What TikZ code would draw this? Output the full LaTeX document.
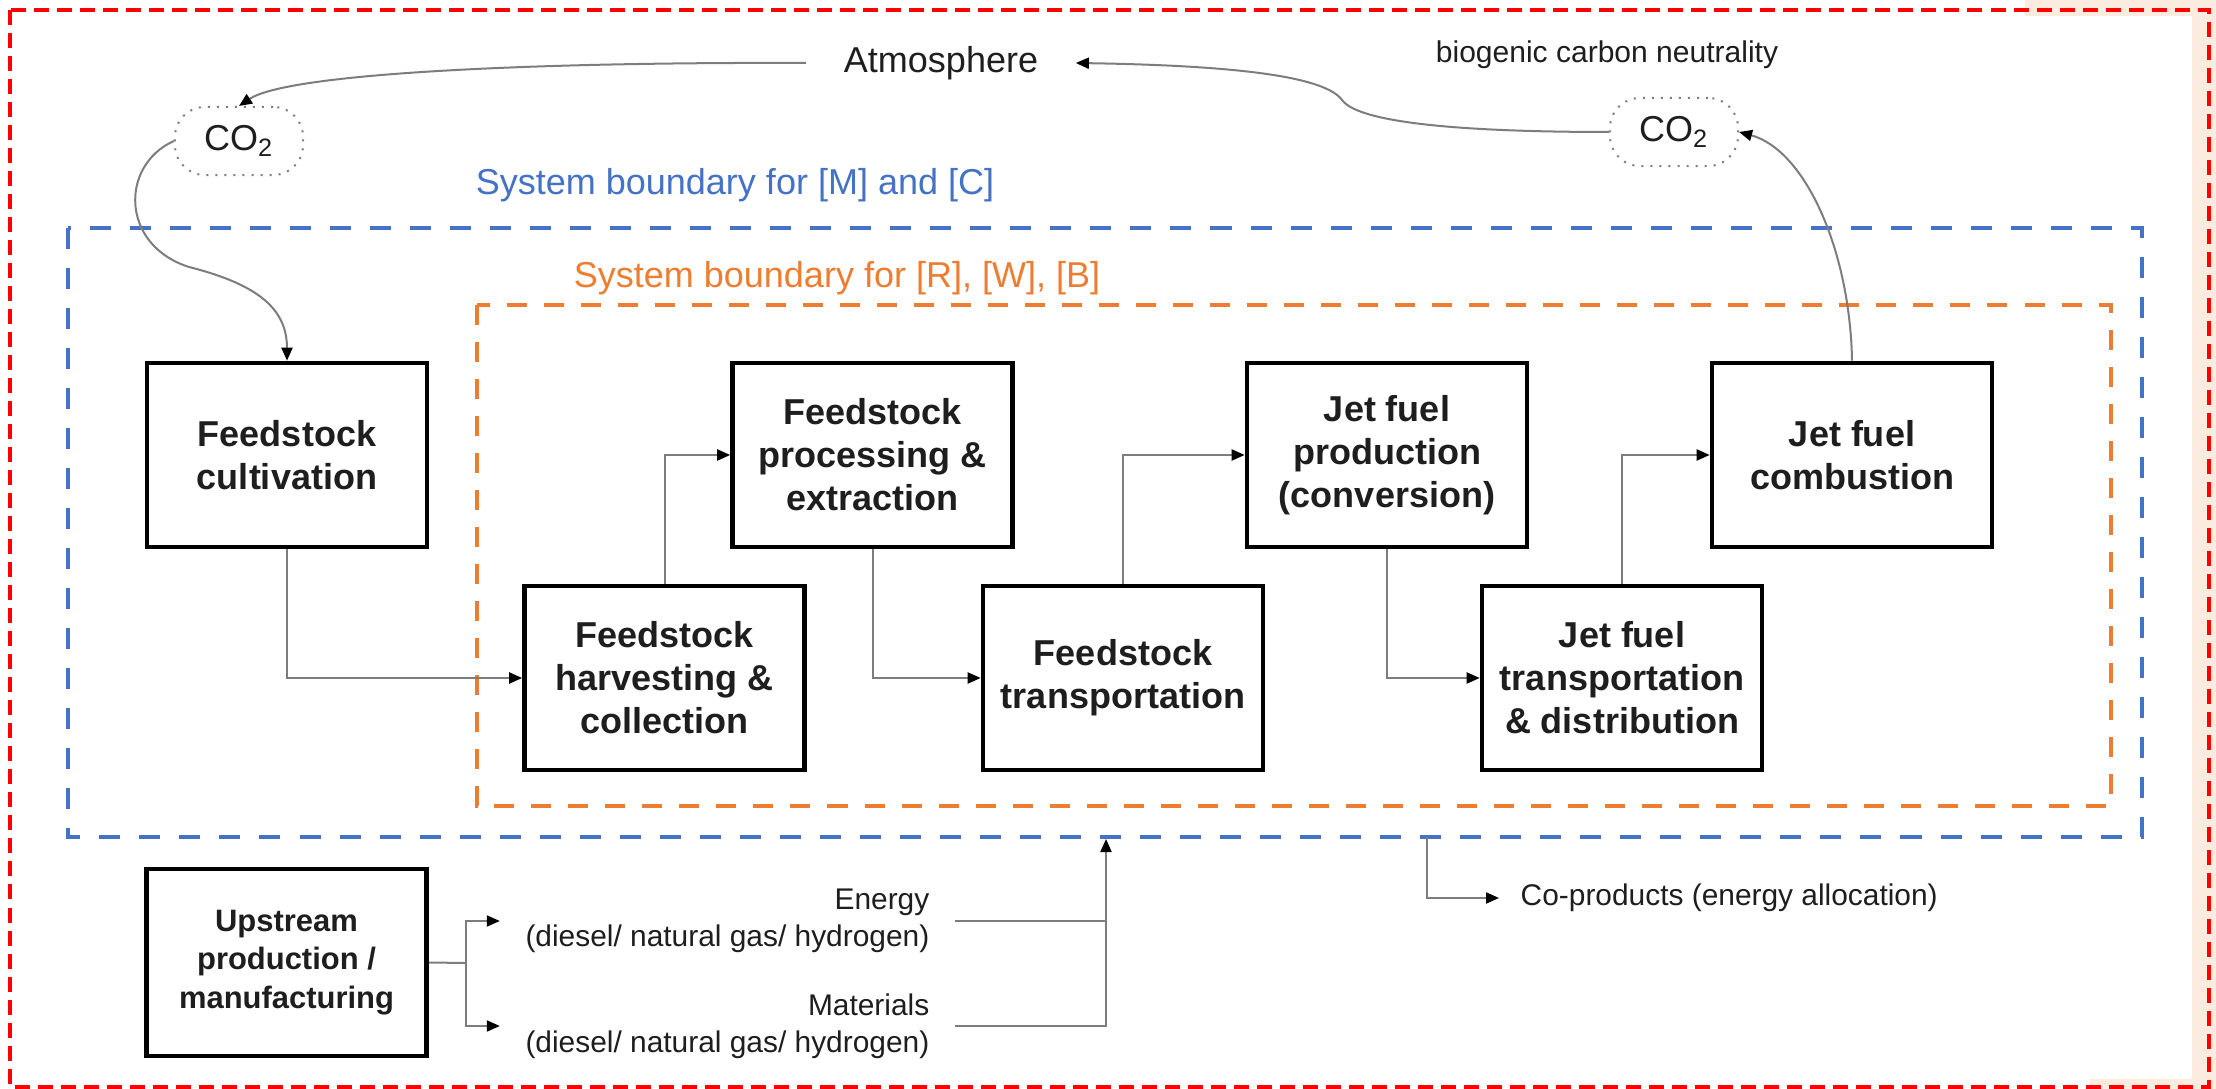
\documentclass[tikz,border=0pt]{standalone}
\usepackage{fontspec}
\setmainfont{Liberation Sans}
\usetikzlibrary{arrows.meta}
\definecolor{bblue}{RGB}{68,114,196}
\definecolor{borange}{RGB}{237,125,49}
\definecolor{bred}{RGB}{255,0,0}
\definecolor{peach}{RGB}{252,236,224}
\definecolor{lgray}{RGB}{125,125,125}
\definecolor{txt}{RGB}{30,30,30}
\begin{document}
\begin{tikzpicture}[x=0.01cm,y=-0.01cm,
  stagebox/.style={draw=black, line width=0.045cm, fill=white, minimum width=2.8cm, minimum height=1.84cm, inner sep=0pt, align=center, font=\fontsize{10.24}{12.2}\selectfont\bfseries, text=txt},
  conn/.style={draw=lgray, line width=0.02cm, -{Triangle[length=0.13cm,width=0.11cm,color=black]}},
  plainline/.style={draw=lgray, line width=0.02cm},
  cotwo/.style={draw=lgray, dotted, line width=0.02cm, rounded corners=0.3cm, minimum width=1.28cm, minimum height=0.68cm, font=\fontsize{10.24}{12}\selectfont, text=txt},
  bluebnd/.style={draw=bblue, line width=0.045cm, dash pattern=on 0.21cm off 0.19cm},
  orangebnd/.style={draw=borange, line width=0.045cm, dash pattern=on 0.2cm off 0.17cm},
  smalltext/.style={font=\fontsize{8.5}{10.5}\selectfont, text=txt},
  bigtext/.style={font=\fontsize{10.24}{12.2}\selectfont}
]
\useasboundingbox (0,0) rectangle (2216,1089);
\fill[white] (0,0) rectangle (2216,1089);
\fill[peach] (2192,0) rectangle (2216,1089);
\fill[peach] (2025,0) rectangle (2216,16);
\fill[peach] (2090,1079) rectangle (2216,1089);

% system boundaries
\draw[bluebnd] (68,228) rectangle (2142,837);
\draw[orangebnd] (477,305) rectangle (2111,806);

% labels
\node[bigtext, text=txt, inner xsep=0.37cm] (atm) at (941,63) {Atmosphere};
\node[font=\fontsize{8.54}{10}\selectfont, text=txt] (bio) at (1607,55) {biogenic carbon neutrality};
\node[bigtext, text=bblue] (lblM) at (735,185) {System boundary for [M] and [C]};
\node[bigtext, text=borange] (lblR) at (837,278) {System boundary for [R], [W], [B]};

% CO2 nodes
\node[cotwo] (co2L) at (239,141) {CO\textsubscript{2}};
\node[cotwo] (co2R) at (1674,132) {CO\textsubscript{2}};

% process boxes
\node[stagebox] (cult) at (287,455) {Feedstock\\cultivation};
\node[stagebox] (harv) at (664.5,678) {Feedstock\\harvesting \&\\collection};
\node[stagebox] (fproc) at (872.5,455) {Feedstock\\processing \&\\extraction};
\node[stagebox] (ftrans) at (1123,678) {Feedstock\\transportation};
\node[stagebox] (prod) at (1387,455) {Jet fuel\\production\\(conversion)};
\node[stagebox] (jtrans) at (1622,678) {Jet fuel\\transportation\\\& distribution};
\node[stagebox] (comb) at (1852,455) {Jet fuel\\combustion};
\node[stagebox, minimum height=1.87cm, font=\fontsize{8.8}{11}\selectfont\bfseries] (up) at (286.5,962.5) {Upstream\\production /\\manufacturing};

% lower labels
\node[smalltext, align=right, inner xsep=0.25cm, anchor=east] (energy) at (955,921) {Energy\\(diesel/ natural gas/ hydrogen)};
\node[smalltext, align=right, inner xsep=0.25cm, anchor=east] (mat) at (955,1026) {Materials\\(diesel/ natural gas/ hydrogen)};
\node[smalltext, inner xsep=0.21cm, anchor=west] (coprod) at (1499,898) {Co-products (energy allocation)};

\coordinate (fork) at (466,963);
\coordinate (bin) at (1106,839);
\coordinate (bout) at (1427,837);

% main chain
\draw[conn] (cult.south) |- (harv.west);
\draw[conn] (harv.north) |- (fproc.west);
\draw[conn] (fproc.south) |- (ftrans.west);
\draw[conn] (ftrans.north) |- (prod.west);
\draw[conn] (prod.south) |- (jtrans.west);
\draw[conn] (jtrans.north) |- (comb.west);

% carbon cycle curves
\draw[conn] (atm.west) .. controls (550,62) and (290,72) .. (co2L.north);
\draw[conn] (co2L.west) .. controls (120,165) and (120,245) .. (189,267) .. controls (260,285) and (287,310) .. (cult.north);
\draw[conn] (comb.north) .. controls (1850,250) and (1805,150) .. (co2R.east);
\draw[conn] (co2R.west) .. controls (1480,132) and (1360,125) .. (1342,100) .. controls (1322,72) and (1200,65) .. (atm.east);

% upstream flows
\draw[plainline] (up.east) -- (fork);
\draw[conn] (fork) |- (energy.west);
\draw[conn] (fork) |- (mat.west);
\draw[conn] (mat.east) -| (bin);
\draw[plainline] (energy.east) -- (energy.east -| bin);
\draw[conn] (bout) |- (coprod.west);

% outer red frame
\draw[bred, line width=0.04cm, dash pattern=on 0.15cm off 0.08cm] (10,10) rectangle (2209,1087);
\end{tikzpicture}
\end{document}
